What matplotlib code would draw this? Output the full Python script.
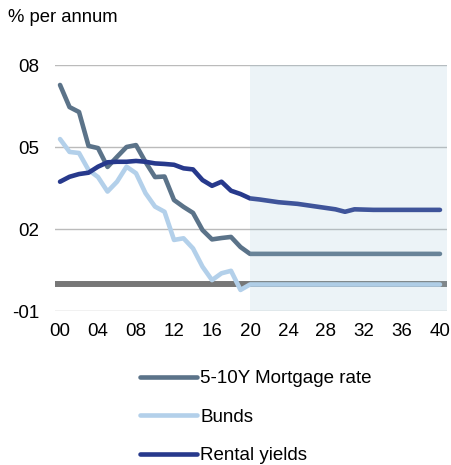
import numpy as np
import matplotlib as mpl
mpl.use('Agg')
import matplotlib.pyplot as plt

plt.rcParams['font.family'] = ['Liberation Sans', 'DejaVu Sans']

years = list(range(0, 41))

# % per annum
mortgage = [7.27, 6.46, 6.28, 5.04, 4.96, 4.27, 4.64, 5.00, 5.07, 4.45,
            3.90, 3.92, 3.06, 2.81, 2.59, 1.96, 1.62, 1.67, 1.71, 1.34,
            1.09] + [1.09] * 20
bunds = [5.29, 4.82, 4.78, 4.16, 3.90, 3.37, 3.73, 4.28, 4.04, 3.31,
         2.82, 2.63, 1.60, 1.66, 1.29, 0.62, 0.13, 0.38, 0.47, -0.23,
         -0.03] + [-0.03] * 20
rental = [3.73, 3.91, 4.01, 4.06, 4.28, 4.44, 4.46, 4.46, 4.49, 4.46,
          4.40, 4.38, 4.35, 4.22, 4.18, 3.79, 3.58, 3.73, 3.40, 3.28,
          3.12, 3.08, 3.03, 2.98, 2.95, 2.92, 2.87, 2.82, 2.77, 2.72,
          2.63, 2.72, 2.71, 2.70, 2.70, 2.70, 2.70, 2.70, 2.70, 2.70, 2.70]

labels = ['5-10Y Mortgage rate', 'Bunds', 'Rental yields']
colors = ['#5b7389', '#b3d0ea', '#27398c']
forecast_start = 20

x_ticks = list(range(0, 41, 4))
y_ticks = [-1, 2, 5, 8]

fig = plt.figure(figsize=(4.51, 4.65), dpi=100)
ax = fig.add_axes([55/451, 1-311/465, 392/451, 246/465])

ax.axhline(0, color='#777777', lw=4.3, zorder=1, solid_capstyle='butt')
for ys, lab, c in zip([mortgage, bunds, rental], labels, colors):
    ax.plot(years, ys, color=c, lw=3.3, label=lab, zorder=2,
            solid_capstyle='round', solid_joinstyle='round')

# forecast shading, drawn on top so the lines look lighter
ax.axvspan(forecast_start, 41, color='#a0c5d7', alpha=0.2, lw=0, zorder=3)

ax.set_xlim(-0.53, 40.74)
ax.set_ylim(-1, 8)
ax.set_yticks(y_ticks)
ax.set_yticklabels(['-%02d' % abs(v) if v < 0 else '%02d' % v for v in y_ticks])
ax.set_xticks(x_ticks)
ax.set_xticklabels(['%02d' % v for v in x_ticks])
ax.tick_params(length=0, labelsize=13.5, colors='black')
ax.tick_params(axis='y', pad=11.5)
ax.tick_params(axis='x', pad=9)
ax.grid(axis='y', color='#bbbbbb', lw=1)
ax.set_axisbelow(True)
for s in ax.spines.values():
    s.set_visible(False)

fig.text(8/451, 1-18/465, '% per annum', fontsize=13.3, va='center', ha='left')

handles, labs = ax.get_legend_handles_labels()
fig.legend(handles, labs, loc='upper left', bbox_to_anchor=(140/451, 1-370/465),
           frameon=False, fontsize=13.5, handlelength=3.05, handletextpad=0.15,
           labelspacing=1.15, borderpad=0, borderaxespad=0)

plt.savefig('out.png', dpi=100)
